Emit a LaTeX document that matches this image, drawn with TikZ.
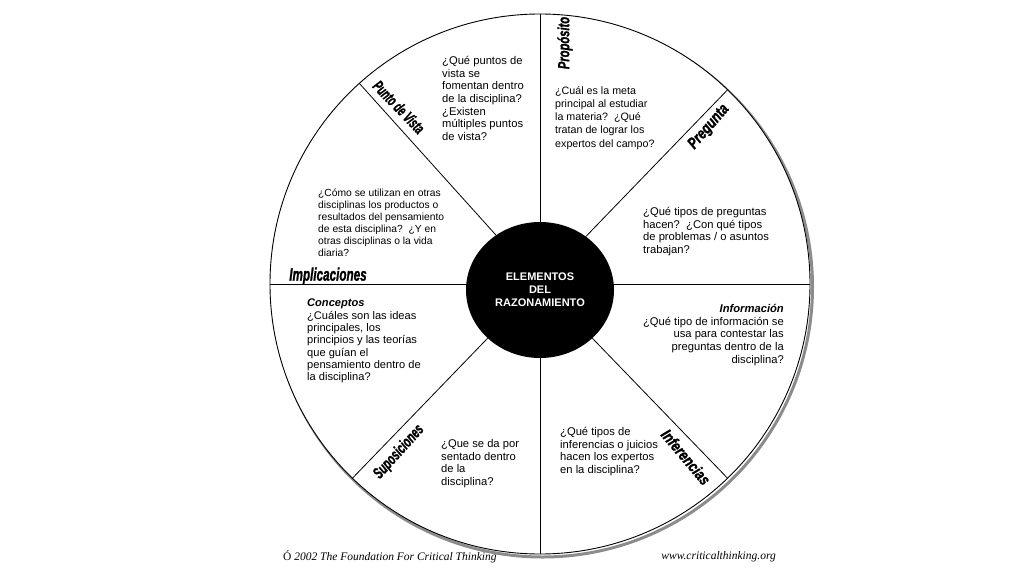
\documentclass[tikz,border=0pt]{standalone}
\usepackage{fontspec}
\setmainfont{Liberation Sans}
\newfontfamily\footfont{Liberation Serif}
\newfontfamily\catfont[BoldItalicFeatures={FakeBold=1.6}]{Liberation Sans}
\usetikzlibrary{shapes.geometric}
\tikzset{
  qtext/.style={font=\fontsize{11.2}{12.7}\selectfont, align=left, inner sep=0pt},
  cattag/.style={font=\catfont\fontsize{16}{16}\selectfont\bfseries\itshape, inner sep=0pt},
  spoke/.style={line width=0.8pt},
  foot/.style={font=\footfont\itshape\fontsize{11.5}{12}\selectfont, inner sep=0pt}
}
% squeeze a label sideways
\newcommand{\sq}[2]{\scalebox{#1}[1]{#2}}

\begin{document}
\begin{tikzpicture}[x=1pt,y=1pt]
  \useasboundingbox (-540,-292) rectangle (484,284);
  % Wheel with its drop shadow
  \node[circle, minimum size=540pt, inner sep=0pt, outer sep=0pt, draw=black!45, line width=3pt] (shadow) at (2.5,-3) {};
  \node[circle, minimum size=540pt, inner sep=0pt, outer sep=0pt, draw, fill=white, line width=0.9pt] (wheel) at (0,0) {};
  % Spokes
  \foreach \a in {0,46,90,132,180,226,270,314}
    \draw[spoke] (wheel.center) -- (wheel.\a);
  % Hub
  \node[ellipse, fill=black, minimum width=148pt, minimum height=136pt, text=white, align=center,
        font=\fontsize{11}{13}\selectfont\bfseries] (hub) at (0,-6) {ELEMENTOS\\DEL\\RAZONAMIENTO};
  % Element names
  \node[cattag, rotate=90] (proposito) at (25,241) {\sq{0.70}{Propósito}};
  \node[cattag, rotate=49] (pregunta) at (169,157) {\sq{0.77}{Pregunta}};
  \node[cattag, rotate=-46] (vista) at (-141,177) {\sq{0.60}{Punto de Vista}};
  \node[cattag, font=\catfont\fontsize{18}{18}\selectfont\bfseries\itshape] (implic) at (-212,8) {\sq{0.65}{Implicaciones}};
  \node[cattag, rotate=48] (supos) at (-141,-168) {\sq{0.64}{Suposiciones}};
  \node[cattag, rotate=-50] (infer) at (146,-173) {\sq{0.79}{Inferencias}};
  % Questions in each sector
  \node[qtext, anchor=north west] (qvista) at (-98,228)
    {¿Qué puntos de\\vista se\\fomentan dentro\\de la disciplina?\\¿Existen\\múltiples puntos\\de vista?};
  \node[qtext, font=\fontsize{10.7}{13.3}\selectfont, anchor=north west] (qprop) at (15,198)
    {¿Cuál es la meta\\principal al estudiar\\la materia?\ \ ¿Qué\\tratan de lograr los\\expertos del campo?};
  \node[qtext, anchor=north west] (qpreg) at (103,77)
    {¿Qué tipos de preguntas\\hacen?\ \ ¿Con qué tipos\\de problemas / o asuntos\\trabajan?};
  \node[qtext, align=right, anchor=north east] (qinfo) at (244,-20)
    {\textbf{\textit{Información}}\\¿Qué tipo de información se\\usa para contestar las\\preguntas dentro de la\\disciplina?};
  \node[qtext, anchor=north west] (qinfer) at (20,-143)
    {¿Qué tipos de\\inferencias o juicios\\hacen los expertos\\en la disciplina?};
  \node[qtext, anchor=north west] (qsupos) at (-99,-155)
    {¿Que se da por\\sentado dentro\\de la\\disciplina?};
  \node[qtext, font=\fontsize{11.1}{12.3}\selectfont, anchor=north west] (qconc) at (-233,-15)
    {\textbf{\textit{Conceptos}}\\¿Cuáles son las ideas\\principales, los\\principios y las teorías\\que guían el\\pensamiento dentro de\\la disciplina?};
  \node[qtext, font=\fontsize{10.3}{12}\selectfont, anchor=north west] (qimpl) at (-222,95)
    {¿Cómo se utilizan en otras\\disciplinas los productos o\\resultados del pensamiento\\de esta disciplina?\ \ ¿Y en\\otras disciplinas o la vida\\diaria?};
  % Footer
  \node[foot, anchor=west] (copy) at (-257,-273) {{\upshape Ó} 2002 The Foundation For Critical Thinking};
  \node[foot, anchor=east] (web) at (236,-273) {www.criticalthinking.org};
\end{tikzpicture}
\end{document}
